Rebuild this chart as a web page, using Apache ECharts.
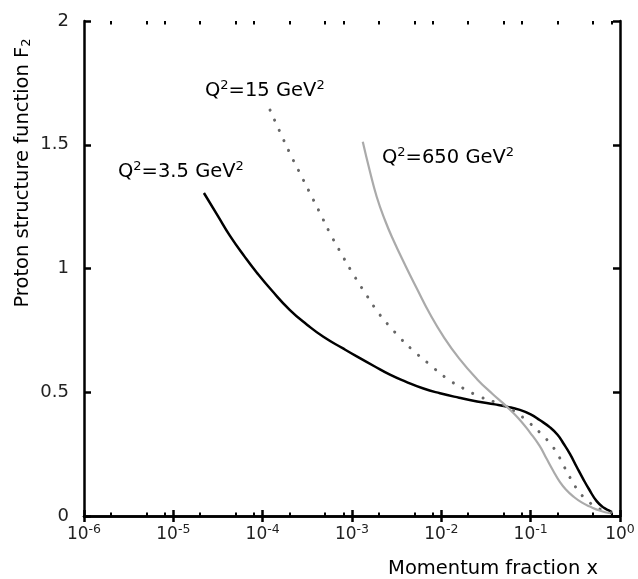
<!DOCTYPE html>
<html>
<head>
<meta charset="utf-8">
<script src="https://cdn.jsdelivr.net/npm/echarts@6/dist/echarts.min.js"></script>
<style>
html,body{margin:0;padding:0;background:#fff;}
#chart{width:638px;height:579px;}
</style>
</head>
<body>
<div id="chart"></div>
<script>
// ---- data ----
// Q^2 = 3.5 GeV^2 (solid black)
var xQ35  = [2.20e-5, 3.16e-5, 4.31e-5, 6.31e-5, 8.57e-5, 1.26e-4, 2.02e-4, 3.16e-4, 4.78e-4, 7.94e-4, 1.13e-3, 1.78e-3, 2.66e-3, 3.98e-3, 6.31e-3, 9.66e-3, 0.0158, 0.0251, 0.0398, 0.054, 0.0741, 0.100, 0.126, 0.166, 0.200, 0.232, 0.275, 0.327, 0.389, 0.447, 0.548, 0.661, 0.773, 0.813];
var f2Q35 = [1.305, 1.212, 1.132, 1.047, 0.984, 0.912, 0.832, 0.772, 0.724, 0.677, 0.645, 0.605, 0.571, 0.543, 0.515, 0.496, 0.478, 0.463, 0.451, 0.442, 0.430, 0.411, 0.388, 0.357, 0.328, 0.294, 0.251, 0.199, 0.148, 0.110, 0.060, 0.033, 0.020, 0.016];
// Q^2 = 15 GeV^2 (dotted gray)
var xQ15  = [1.21e-4, 1.58e-4, 2.02e-4, 2.63e-4, 3.39e-4, 4.47e-4, 5.68e-4, 7.59e-4, 1.0e-3, 1.41e-3, 2.06e-3, 2.82e-3, 3.44e-3, 4.85e-3, 7.08e-3, 0.0115, 0.0178, 0.0271, 0.0398, 0.054, 0.0741, 0.0984, 0.126, 0.166, 0.200, 0.232, 0.275, 0.327, 0.389, 0.461, 0.562, 0.708, 0.794];
var f2Q15 = [1.640, 1.548, 1.465, 1.383, 1.304, 1.218, 1.142, 1.060, 0.985, 0.900, 0.812, 0.755, 0.720, 0.668, 0.618, 0.556, 0.515, 0.482, 0.460, 0.442, 0.410, 0.374, 0.338, 0.292, 0.250, 0.206, 0.156, 0.111, 0.077, 0.053, 0.033, 0.018, 0.013];
// Q^2 = 650 GeV^2 (solid light gray)
var xQ650  = [1.32e-3, 1.58e-3, 1.89e-3, 2.34e-3, 2.90e-3, 3.98e-3, 5.30e-3, 7.41e-3, 0.0107, 0.0158, 0.0251, 0.0372, 0.054, 0.0741, 0.0984, 0.126, 0.151, 0.178, 0.213, 0.251, 0.300, 0.372, 0.461, 0.603, 0.773];
var f2Q650 = [1.512, 1.395, 1.290, 1.195, 1.115, 1.010, 0.920, 0.818, 0.722, 0.637, 0.553, 0.494, 0.442, 0.392, 0.337, 0.283, 0.231, 0.184, 0.137, 0.105, 0.079, 0.055, 0.038, 0.021, 0.011];
// axis ticks
var xMajor = [1e-6, 1e-5, 1e-4, 1e-3, 1e-2, 1e-1, 1];
var xMinor = [2e-6,5e-6,8e-6, 2e-5,5e-5,8e-5, 2e-4,5e-4,8e-4, 2e-3,5e-3,8e-3, 2e-2,5e-2,8e-2, 2e-1,5e-1,8e-1];
var curveLabels = ['{b|Q}{sup|2}{b|=3.5 GeV}{sup|2}', '{b|Q}{sup|2}{b|=15 GeV}{sup|2}', '{b|Q}{sup|2}{b|=650 GeV}{sup|2}'];

function zip(a, b) { return a.map(function (v, i) { return [v, b[i]]; }); }

var FONT = '"DejaVu Sans", Verdana, sans-serif';
var TXT = '#222';
var textRich = {
  b: { fontSize: 19.5, fontFamily: FONT, color: TXT, lineHeight: 22, verticalAlign: 'bottom' },
  sup: { fontSize: 13, fontFamily: FONT, color: TXT, lineHeight: 13, verticalAlign: 'top' },
  sub: { fontSize: 13, fontFamily: FONT, color: TXT, lineHeight: 13, verticalAlign: 'bottom' }
};
var tickRich = {
  b: { fontSize: 17, fontFamily: FONT, color: TXT, lineHeight: 20, verticalAlign: 'bottom' },
  sup: { fontSize: 12.5, fontFamily: FONT, color: TXT, lineHeight: 12, verticalAlign: 'top' }
};

function logAxis(pos, ticks, len, width, showLine, showLabel) {
  return {
    type: 'log', logBase: 10, min: 1e-6, max: 1, position: pos,
    axisLine: { show: showLine, lineStyle: { color: '#000', width: 2.5 } },
    axisTick: { show: true, inside: true, length: len, customValues: ticks, lineStyle: { color: '#000', width: width } },
    axisLabel: showLabel ? {
      customValues: ticks, margin: 7, fontSize: 17, fontFamily: FONT, color: TXT,
      formatter: function (v) { return '{b|10}{sup|' + Math.round(Math.log10(v)) + '}'; },
      rich: tickRich
    } : { show: false },
    splitLine: { show: false }, minorTick: { show: false }, minorSplitLine: { show: false }
  };
}
function valAxis(pos, showLabel) {
  return {
    type: 'value', min: 0, max: 2, interval: 0.5, position: pos,
    axisLine: { show: true, lineStyle: { color: '#000', width: 2.5 } },
    axisTick: { show: true, inside: true, length: 7, lineStyle: { color: '#000', width: 2.5 } },
    axisLabel: showLabel ? { margin: 15, fontSize: 18, fontFamily: FONT, color: TXT, formatter: function (v) { return String(v); } } : { show: false },
    splitLine: { show: false }
  };
}

var chart = echarts.init(document.getElementById('chart'), null, { renderer: 'canvas' });
chart.setOption({
  animation: false,
  backgroundColor: '#fff',
  grid: { left: 84, right: 18, top: 21, bottom: 63, containLabel: false, outerBoundsMode: 'none' },
  xAxis: [
    logAxis('bottom', xMajor, 6, 2.5, true, true),
    logAxis('top', xMajor, 6, 2.5, true, false),
    logAxis('bottom', xMinor, 3.5, 2, false, false),
    logAxis('top', xMinor, 3.5, 2, false, false)
  ],
  yAxis: [valAxis('left', true), valAxis('right', false)],
  series: [
    { type: 'line', name: 'Q2=3.5', xAxisIndex: 0, yAxisIndex: 0, data: zip(xQ35, f2Q35), smooth: 0.5, showSymbol: false, lineStyle: { color: '#000', width: 2.5 } },
    { type: 'line', name: 'Q2=15', xAxisIndex: 0, yAxisIndex: 0, data: zip(xQ15, f2Q15), smooth: 0.5, showSymbol: false, lineStyle: { color: '#666', width: 3, type: [0.1, 11], cap: 'round' } },
    { type: 'line', name: 'Q2=650', xAxisIndex: 0, yAxisIndex: 0, data: zip(xQ650, f2Q650), smooth: 0.5, showSymbol: false, lineStyle: { color: '#aaa', width: 2.2 } }
  ],
  graphic: [
    { type: 'text', x: 22, y: 173, rotation: Math.PI / 2, style: { text: '{b|Proton structure function F}{sub|2}', rich: textRich, align: 'center', verticalAlign: 'middle' } },
    { type: 'text', x: 598, y: 568, style: { text: '{b|Momentum fraction x}', rich: textRich, align: 'right', verticalAlign: 'middle' } },
    { type: 'text', x: 118, y: 171, style: { text: curveLabels[0], rich: textRich, align: 'left', verticalAlign: 'middle' } },
    { type: 'text', x: 205, y: 90, style: { text: curveLabels[1], rich: textRich, align: 'left', verticalAlign: 'middle' } },
    { type: 'text', x: 382, y: 157, style: { text: curveLabels[2], rich: textRich, align: 'left', verticalAlign: 'middle' } }
  ]
});
</script>
</body>
</html>
